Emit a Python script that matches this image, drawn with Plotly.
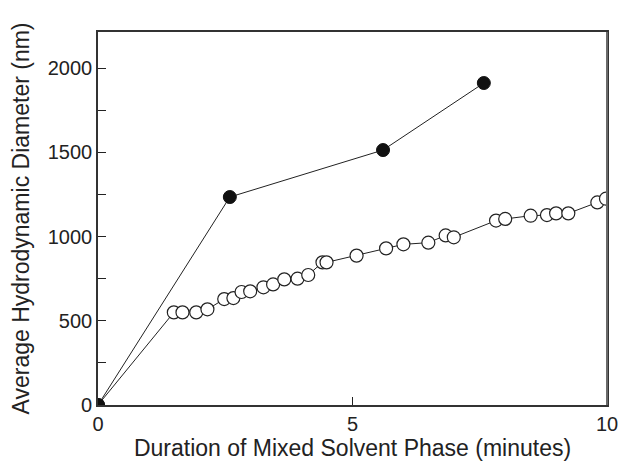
import plotly.graph_objects as go

# Mixed-solvent phase duration (minutes) vs. average hydrodynamic diameter (nm)
open_t = [0, 1.49, 1.66, 1.93, 2.15, 2.48, 2.66, 2.82, 2.99, 3.25, 3.44, 3.66,
          3.92, 4.13, 4.41, 4.49, 5.08, 5.66, 6.00, 6.49, 6.83, 6.99, 7.82,
          8.00, 8.50, 8.82, 9.00, 9.24, 9.81, 9.98]
open_d = [0, 550, 550, 550, 568, 629, 635, 671, 675, 699, 716, 746,
          750, 772, 847, 847, 887, 930, 954, 964, 1007, 996, 1095,
          1105, 1124, 1128, 1138, 1138, 1203, 1225]

filled_t = [0, 2.59, 5.60, 7.58]
filled_d = [0, 1235, 1514, 1912]

x_ticks = [0, 5, 10]
y_ticks = [0, 500, 1000, 1500, 2000]

font_family = "Liberation Sans, Arial, sans-serif"

fig = go.Figure()
fig.add_trace(go.Scatter(
    x=open_t, y=open_d, mode="lines+markers",
    line=dict(color="#222", width=1),
    marker=dict(symbol="circle", size=13, color="white",
                line=dict(color="#222", width=1.2)),
    cliponaxis=True, showlegend=False,
))
fig.add_trace(go.Scatter(
    x=filled_t, y=filled_d, mode="lines+markers",
    line=dict(color="#222", width=1),
    marker=dict(symbol="circle", size=13, color="#111",
                line=dict(color="#111", width=1)),
    cliponaxis=True, showlegend=False,
))

# softer grey right-hand frame edge
fig.add_shape(type="line", xref="paper", yref="paper", x0=1, x1=1, y0=0, y1=1,
              line=dict(color="#6a6a6a", width=2), layer="above")

fig.update_layout(
    width=618, height=466,
    margin=dict(l=98, r=11, t=32, b=61),
    paper_bgcolor="white", plot_bgcolor="white",
    font=dict(family=font_family, size=20, color="#222"),
    xaxis=dict(
        range=[0, 10], tickvals=x_ticks, ticktext=[str(v) for v in x_ticks],
        ticks="inside", ticklen=8, tickcolor="#222", tickwidth=1,
        ticklabeloverflow="allow", automargin=False,
        showline=True, linecolor="#333", linewidth=1.6, mirror=True,
        showgrid=False, zeroline=False,
        title=dict(text="Duration of Mixed Solvent Phase (minutes)",
                   font=dict(size=23), standoff=6),
    ),
    yaxis=dict(
        range=[0, 2215], tickvals=y_ticks, ticktext=[str(v) for v in y_ticks],
        ticks="inside", ticklen=8, tickcolor="#222", tickwidth=1,
        ticklabeloverflow="allow", automargin=False,
        minor=dict(dtick=250, ticks="inside", ticklen=8, tickcolor="#222",
                   tickwidth=1, showgrid=False),
        showline=True, linecolor="#333", linewidth=1.6, mirror=True,
        showgrid=False, zeroline=False,
        title=dict(text="Average Hydrodynamic Diameter (nm)",
                   font=dict(size=23), standoff=12),
    ),
)

fig.write_html("out.html")
